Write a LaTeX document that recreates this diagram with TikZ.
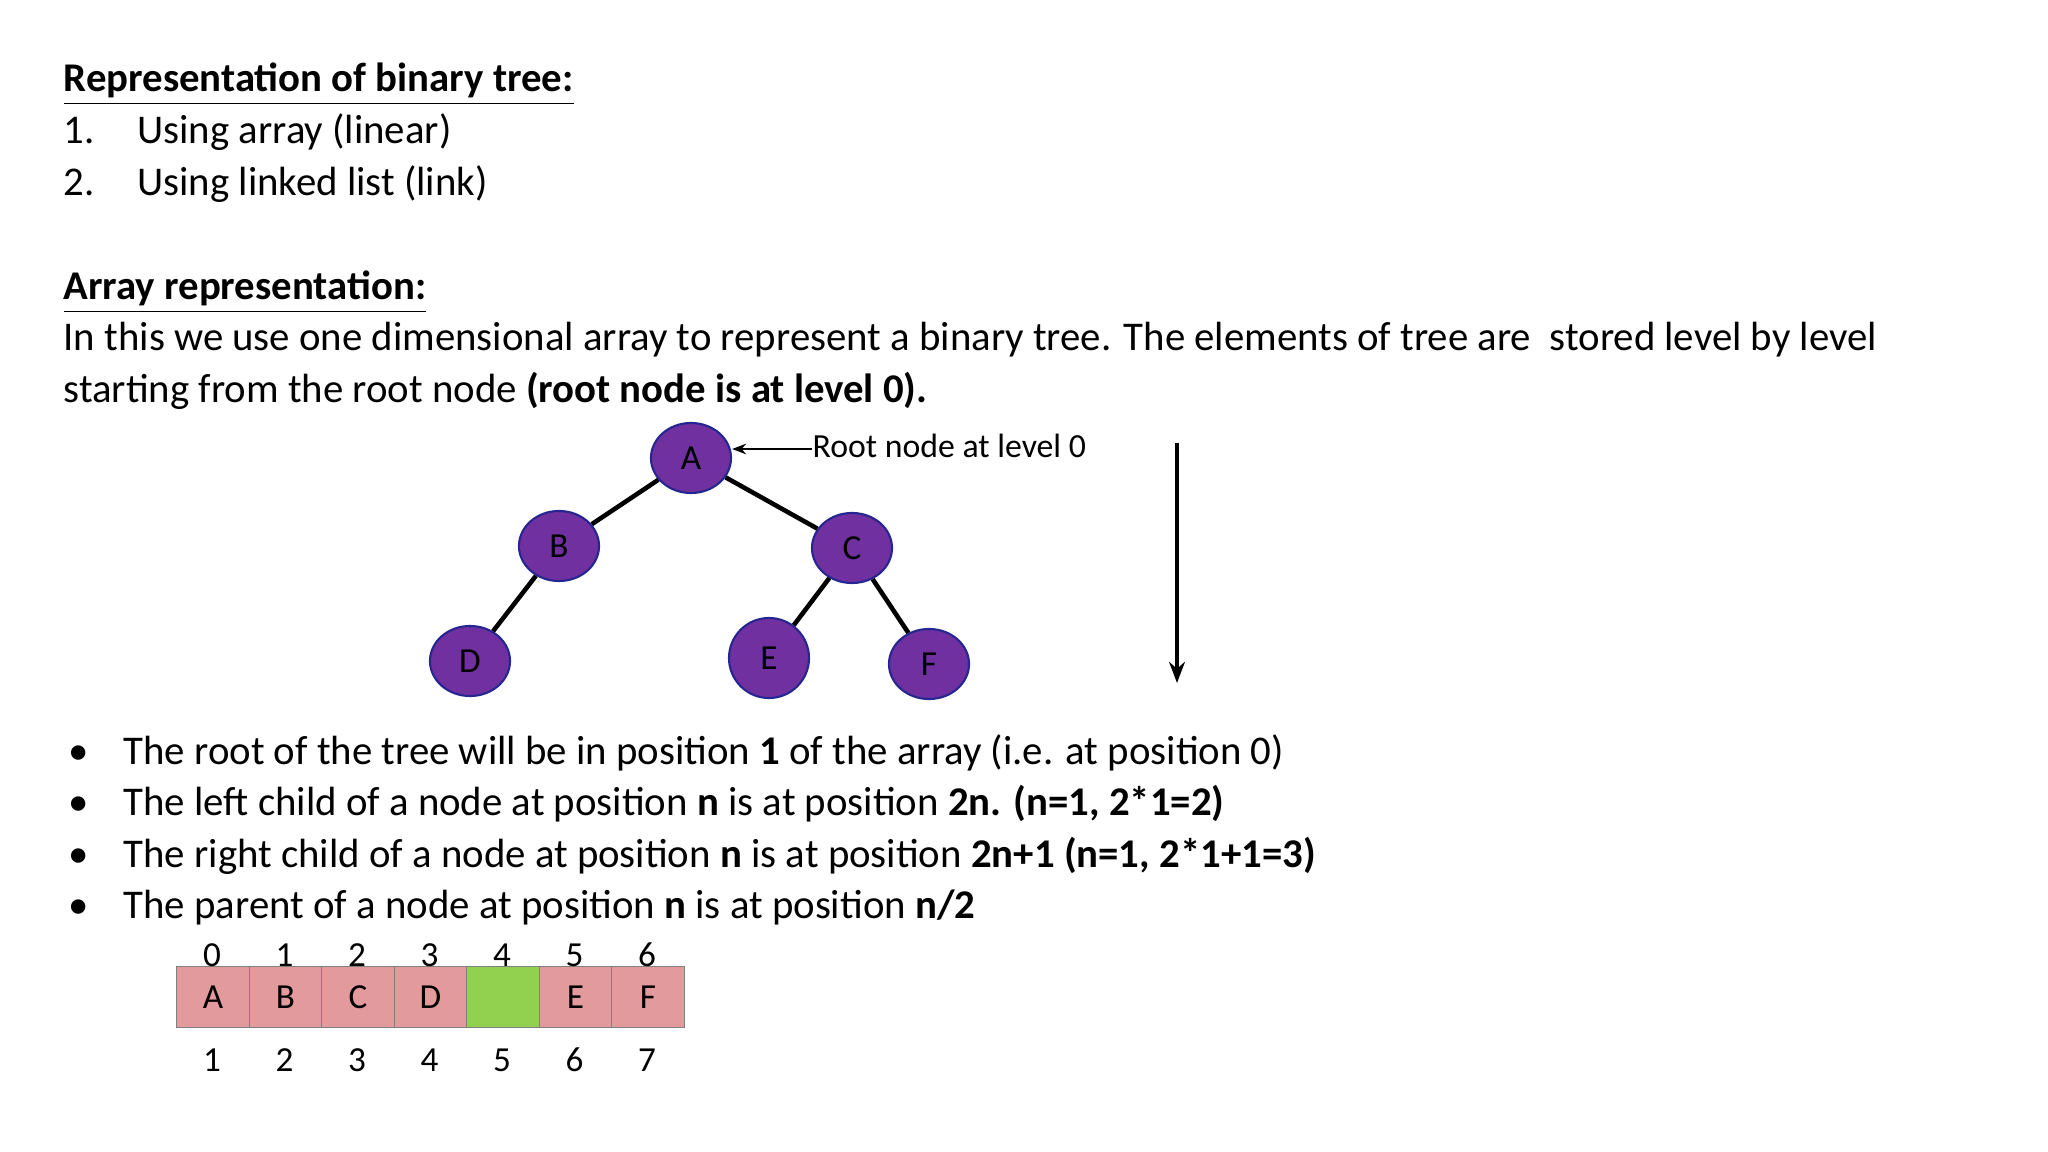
\documentclass[tikz,border=0pt]{standalone}
\usepackage{fontspec}
\setmainfont{Carlito}
\usetikzlibrary{shapes.geometric,arrows.meta}
\begin{document}
\begin{tikzpicture}[x=0.01cm,y=-0.01cm,
  txt/.style={anchor=base west,inner sep=0,font=\fontsize{11.6}{14}\selectfont},
  tn/.style={ellipse,draw=black!60!blue,fill=violet!80!purple,line width=0.6pt,minimum width=0.8cm,minimum height=0.7cm,inner sep=0,font=\fontsize{10}{12}\selectfont},
  edge/.style={line width=1.3pt},
  cell/.style={draw=black!50,fill=cellpink,minimum width=0.725cm,minimum height=0.61cm,inner sep=0,anchor=north west,font=\fontsize{10}{12}\selectfont},
  num/.style={inner sep=0,font=\fontsize{10}{12}\selectfont}]
\definecolor{cellpink}{HTML}{E39A9C}
\definecolor{cellgreen}{HTML}{92D050}
\definecolor{nodepurple}{HTML}{7030A0}
\tikzset{tn/.append style={fill=nodepurple,draw=black!40!blue!70!gray}}
\useasboundingbox (0,0) rectangle (2048,1152);
\node[txt] (t1) at (63,92) {\textbf{\underline{Representation of binary tree:}}};
\node[txt] (l1) at (63,144) {1.\hspace{1.05em}Using array (linear)};
\node[txt] (l2) at (63,196) {2.\hspace{1.05em}Using linked list (link)};
\node[txt] (t2) at (63,300) {\textbf{\underline{Array representation:}}};
\node[txt] (p1) at (63,351) {In this we use one dimensional array to represent a binary tree. The elements of tree are\ \ stored level by level};
\node[txt] (p2) at (63,403) {starting from the root node \textbf{(root node is at level 0).}};
% tree
\node[tn] (A) at (691,458) {A};
\node[tn] (B) at (559,546) {B};
\node[tn] (C) at (852,548) {C};
\node[tn] (D) at (470,661) {D};
\node[tn,minimum height=0.8cm] (E) at (769,658) {E};
\node[tn] (F) at (929,664) {F};
\draw[edge] (A) -- (B);
\draw[edge] (A) -- (C);
\draw[edge] (B) -- (D);
\draw[edge] (C) -- (E);
\draw[edge] (C) -- (F);
\node[anchor=base west,inner sep=0,font=\fontsize{9.6}{12}\selectfont] (root) at (812,458) {Root node at level 0};
\draw[-{Stealth[length=4pt]},line width=0.8pt] (root.west |- 0,449) -- (A.east |- 0,449);
\coordinate (v1) at (1177,443);
\coordinate (v2) at (1177,683);
\draw[-{Stealth[length=6pt]},line width=1.3pt] (v1) -- (v2);
% bullets
\foreach \y/\t in {764/{The root of the tree will be in position \textbf{1} of the array (i.e. at position 0)},
  815/{The left child of a node at position \textbf{n} is at position \textbf{2n. (n=1, 2*1=2)}},
  867/{The right child of a node at position \textbf{n} is at position \textbf{2n+1 (n=1, 2*1+1=3)}},
  918/{The parent of a node at position \textbf{n} is at position \textbf{n/2}}}{
  \node[txt] at (68,\y) {\textbullet};
  \node[txt] at (123,\y) {\t};
}
% array
\foreach \i/\l/\c in {0/A/cellpink,1/B/cellpink,2/C/cellpink,3/D/cellpink,4/{}/cellgreen,5/E/cellpink,6/F/cellpink}{
  \node[cell,fill=\c] (c\i) at ({176+72.5*\i},966) {\l};
  \node[num,anchor=base] at ({212+72.5*\i},966) {\i};
  \pgfmathtruncatemacro{\j}{\i+1}
  \node[num] at ({212+72.5*\i},1060) {\j};
}
\end{tikzpicture}
\end{document}
